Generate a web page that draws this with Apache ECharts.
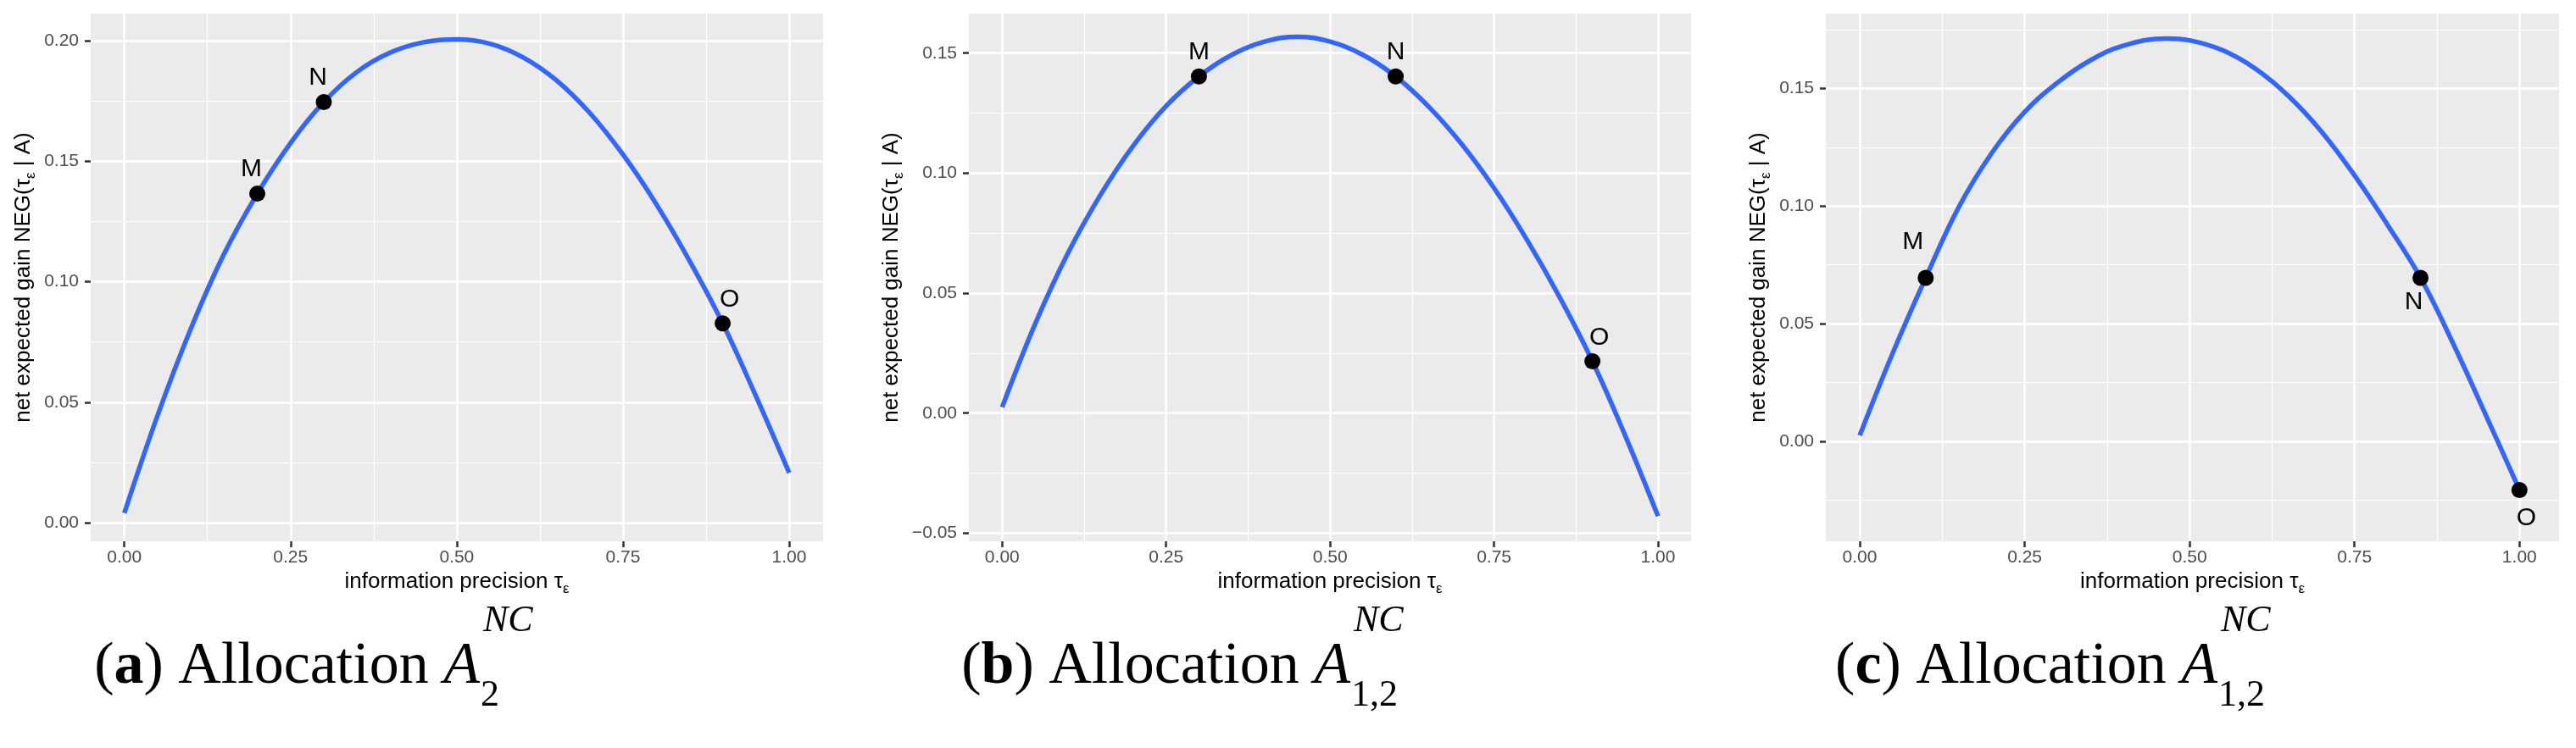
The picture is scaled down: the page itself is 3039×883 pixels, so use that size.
<!DOCTYPE html>
<html>
<head>
<meta charset="utf-8">
<script src="https://cdn.jsdelivr.net/npm/echarts@6/dist/echarts.min.js"></script>
<style>
html,body{margin:0;padding:0;background:#fff;}
#c{width:3039px;height:883px;}
</style>
</head>
<body>
<div id="c"></div>
<script>
// ---------- data ----------
const tauA = [0, 0.05, 0.10, 0.15, 0.20, 0.25, 0.30, 0.35, 0.40, 0.45, 0.50,
              0.55, 0.60, 0.65, 0.70, 0.75, 0.80, 0.85, 0.90, 0.95, 1.00];
const negA = [0.0040, 0.0445, 0.0805, 0.1115, 0.1365, 0.1575, 0.1745, 0.1870, 0.1950, 0.1993, 0.2005,
              0.1987, 0.1930, 0.1835, 0.1700, 0.1527, 0.1322, 0.1087, 0.0827, 0.0525, 0.0207];
const tauB = [0, 0.05, 0.10, 0.15, 0.20, 0.25, 0.30, 0.35, 0.40, 0.45, 0.50,
              0.55, 0.60, 0.65, 0.70, 0.75, 0.80, 0.85, 0.90, 0.95, 1.00];
const negB = [0.0025, 0.0370, 0.0665, 0.0910, 0.1115, 0.1280, 0.1403, 0.1493, 0.1548, 0.1568, 0.1548,
              0.1493, 0.1403, 0.1278, 0.1123, 0.0938, 0.0723, 0.0483, 0.0216, -0.0094, -0.0429];
const tauC = [0, 0.05, 0.10, 0.15, 0.20, 0.25, 0.30, 0.35, 0.40, 0.465, 0.50,
              0.55, 0.60, 0.65, 0.70, 0.75, 0.80, 0.85, 0.90, 0.95, 1.00];
const negC = [0.0025, 0.0375, 0.0695, 0.0995, 0.1225, 0.1400, 0.1525, 0.1620, 0.1682, 0.1712, 0.1704,
              0.1662, 0.1583, 0.1467, 0.1316, 0.1130, 0.0920, 0.0695, 0.0412, 0.0105, -0.0207];

const pointNames = ['M', 'N', 'O'];
const ptsXA = [0.2, 0.3, 0.9];   const ptsYA = [0.1365, 0.1745, 0.0827];
const ptsXB = [0.3, 0.6, 0.9];   const ptsYB = [0.1403, 0.1403, 0.0216];
const ptsXC = [0.1, 0.85, 1.0];  const ptsYC = [0.0695, 0.0695, -0.0207];

const xTicks = [0, 0.25, 0.5, 0.75, 1];
const xMinor = [0.125, 0.375, 0.625, 0.875];
const yTicksA = [0, 0.05, 0.10, 0.15, 0.20];
const yMinorA = [0.025, 0.075, 0.125, 0.175];
const yTicksB = [-0.05, 0, 0.05, 0.10, 0.15];
const yMinorB = [-0.025, 0.025, 0.075, 0.125];
const yTicksC = [0, 0.05, 0.10, 0.15];
const yMinorC = [-0.025, 0.025, 0.075, 0.125, 0.175];

const captionLetters = ['a', 'b', 'c'];
const captionSubs = ['2', '1,2', '1,2'];
const xTitle = 'information precision';
const yTitle = 'net expected gain NEG(';

// ---------- layout / style ----------
const SANS = '"Liberation Sans", Arial, sans-serif';
const SERIF = '"Liberation Serif", "Times New Roman", serif';
const panels = [
  {left: 107, width: 864, xr: [-0.0506, 1.051], yr: [-0.0077, 0.2112], yT: yTicksA, yM: yMinorA,
   x: tauA, y: negA, px: ptsXA, py: ptsYA, offs: [[-7, -29], [-7, -29], [8, -28]], yGap: 62, anchor: 566},
  {left: 1143, width: 852, xr: [-0.0508, 1.0504], yr: [-0.0534, 0.1665], yT: yTicksB, yM: yMinorB,
   x: tauB, y: negB, px: ptsXB, py: ptsYB, offs: [[0, -28], [0, -28], [8, -28]], yGap: 74, anchor: 1593},
  {left: 2154, width: 865, xr: [-0.0514, 1.060], yr: [-0.0425, 0.1818], yT: yTicksC, yM: yMinorC,
   x: tauC, y: negC, px: ptsXC, py: ptsYC, offs: [[-15, -42], [-8, 29], [8, 33]], yGap: 62, anchor: 2616}
];
const TOP = 16, HEIGHT = 623;

const fmt = v => (v < -1e-9 ? '\u2212' : '') + Math.abs(v).toFixed(2);
const nameRich = {
  t: {fontSize: 26, lineHeight: 30, verticalAlign: 'top', color: '#000', fontFamily: SANS},
  s: {fontSize: 17, lineHeight: 30, verticalAlign: 'bottom', color: '#000', fontFamily: SANS}
};

const grid = [], xAxis = [], yAxis = [], series = [], graphic = [];
panels.forEach((p, i) => {
  grid.push({left: p.left, top: TOP, width: p.width, height: HEIGHT, show: true,
             backgroundColor: '#EBEBEB', borderWidth: 0, containLabel: false});
  // major x
  xAxis.push({type: 'value', gridIndex: i, min: p.xr[0], max: p.xr[1], position: 'bottom',
    axisLine: {show: false, onZero: false},
    axisTick: {show: true, length: 7, customValues: xTicks, lineStyle: {color: '#333333', width: 2.5}},
    axisLabel: {customValues: xTicks, formatter: fmt, color: '#4D4D4D', fontSize: 21, fontFamily: SANS, margin: 9},
    splitLine: {show: true, lineStyle: {color: '#FFFFFF', width: 2.6}},
    name: '{t|' + xTitle + ' τ}{s|ε}', nameLocation: 'middle', nameGap: 35,
    nameTextStyle: {rich: nameRich, fontSize: 26, color: '#000', fontFamily: SANS}
  });
  // minor x
  xAxis.push({type: 'value', gridIndex: i, min: p.xr[0], max: p.xr[1], position: 'bottom',
    axisLine: {show: false, onZero: false}, axisTick: {show: false, customValues: xMinor},
    axisLabel: {show: false, customValues: xMinor},
    splitLine: {show: true, lineStyle: {color: '#FFFFFF', width: 1.2}}
  });
  // major y
  yAxis.push({type: 'value', gridIndex: i, min: p.yr[0], max: p.yr[1], position: 'left',
    axisLine: {show: false, onZero: false},
    axisTick: {show: true, length: 7, customValues: p.yT, lineStyle: {color: '#333333', width: 2.5}},
    axisLabel: {customValues: p.yT, formatter: fmt, color: '#4D4D4D', fontSize: 21, fontFamily: SANS, margin: 14},
    splitLine: {show: true, lineStyle: {color: '#FFFFFF', width: 2.6}},
    name: '{t|' + yTitle + 'τ}{s|ε}{t| | A)}', nameLocation: 'middle', nameRotate: 90, nameGap: p.yGap,
    nameTextStyle: {rich: nameRich, fontSize: 26, color: '#000', fontFamily: SANS}
  });
  // minor y
  yAxis.push({type: 'value', gridIndex: i, min: p.yr[0], max: p.yr[1], position: 'left',
    axisLine: {show: false, onZero: false}, axisTick: {show: false, customValues: p.yM},
    axisLabel: {show: false, customValues: p.yM},
    splitLine: {show: true, lineStyle: {color: '#FFFFFF', width: 1.2}}
  });

  series.push({type: 'line', xAxisIndex: 2 * i, yAxisIndex: 2 * i,
    data: p.x.map((x, k) => [x, p.y[k]]), smooth: 0.4, showSymbol: false, symbol: 'none',
    lineStyle: {color: '#3366FF', width: 5.5}, z: 2, silent: true, animation: false});
  series.push({type: 'scatter', xAxisIndex: 2 * i, yAxisIndex: 2 * i,
    data: p.px.map((x, k) => ({name: pointNames[k], value: [x, p.py[k]],
      label: {offset: p.offs[k]}})),
    symbol: 'circle', symbolSize: 19, itemStyle: {color: '#000', opacity: 1}, z: 3, animation: false,
    label: {show: true, position: 'inside', formatter: '{b}', color: '#000', fontSize: 30, fontFamily: SANS}
  });

  // caption
  graphic.push({type: 'text', x: p.anchor, y: 788, z: 10,
    style: {text: '{n|(}{b|' + captionLetters[i] + '}{n|) Allocation }{it|A}', align: 'right', verticalAlign: 'middle',
      fill: '#000',
      rich: {
        n: {fontSize: 70, fontFamily: SERIF, fill: '#000'},
        b: {fontSize: 70, fontFamily: SERIF, fontWeight: 'bold', fill: '#000'},
        it: {fontSize: 70, fontFamily: SERIF, fontStyle: 'italic', fill: '#000'}
      }}});
  graphic.push({type: 'text', x: p.anchor + 4, y: 733, z: 10,
    style: {text: 'NC', fontSize: 44, fontFamily: SERIF, fontStyle: 'italic', fill: '#000', align: 'left', verticalAlign: 'middle'}});
  graphic.push({type: 'text', x: p.anchor + 1, y: 821, z: 10,
    style: {text: captionSubs[i], fontSize: 44, fontFamily: SERIF, fill: '#000', align: 'left', verticalAlign: 'middle'}});
});

const chart = echarts.init(document.getElementById('c'), null, {renderer: 'canvas'});
chart.setOption({animation: false, backgroundColor: '#FFFFFF', grid, xAxis, yAxis, series, graphic});
</script>
</body>
</html>
